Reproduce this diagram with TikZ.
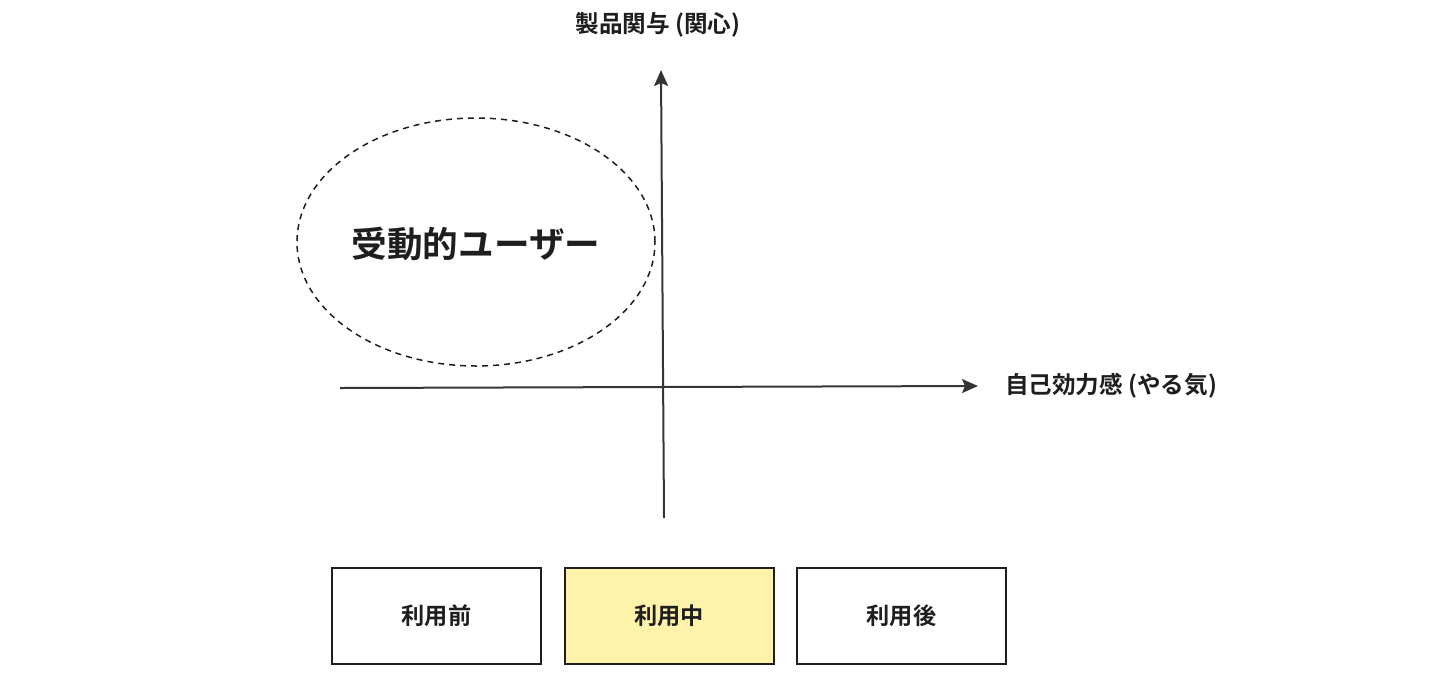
\documentclass[tikz,border=0pt]{standalone}
\usepackage{fontspec}
\newfontfamily\jp{Noto Sans CJK JP}[BoldFont={* Bold}]
\usetikzlibrary{arrows.meta,shapes.geometric}
\definecolor{ink}{HTML}{1E1E1E}
\definecolor{hl}{HTML}{FFF3AC}
\begin{document}
\begin{tikzpicture}[x=0.5pt,y=-0.5pt,
  axis/.style={draw=ink!90, line width=1pt, -{Stealth[length=8pt,width=7pt,inset=1.5pt]}},
  lbl/.style={font=\jp\bfseries\fontsize{11.8}{14}\selectfont, text=ink},
  phase/.style={draw=ink, line width=1pt, minimum width=104.5pt, minimum height=48pt, font=\jp\bfseries\fontsize{11.6}{13}\selectfont, text=ink, inner sep=0pt}]
\useasboundingbox (0,0) rectangle (1440,687);
\coordinate (vb) at (664,518);
\coordinate (vt) at (661,70);
\coordinate (hl) at (340,388);
\coordinate (hr) at (978,386);
\draw[axis] (vb) -- (vt);
\draw[axis] (hl) -- (hr);
\node[lbl] (ytitle) at (658,25) {製品関与 (関心)};
\node[lbl, anchor=west] (xtitle) at (998,386) {自己効力感 (やる気)};
\node[draw=ink, dash pattern=on 3pt off 2.5pt, line width=0.75pt, ellipse, minimum width=179pt, minimum height=124pt, inner sep=0pt] (ell) at (476,242) {};
\node[font=\jp\bfseries\fontsize{17.8}{21}\selectfont, text=ink] (pass) at (476,244) {受動的ユーザー};
\node[phase] (before) at (436.5,616) {利用前};
\node[phase, fill=hl] (during) at (669,616) {利用中};
\node[phase] (after) at (901.5,616) {利用後};
\end{tikzpicture}
\end{document}
